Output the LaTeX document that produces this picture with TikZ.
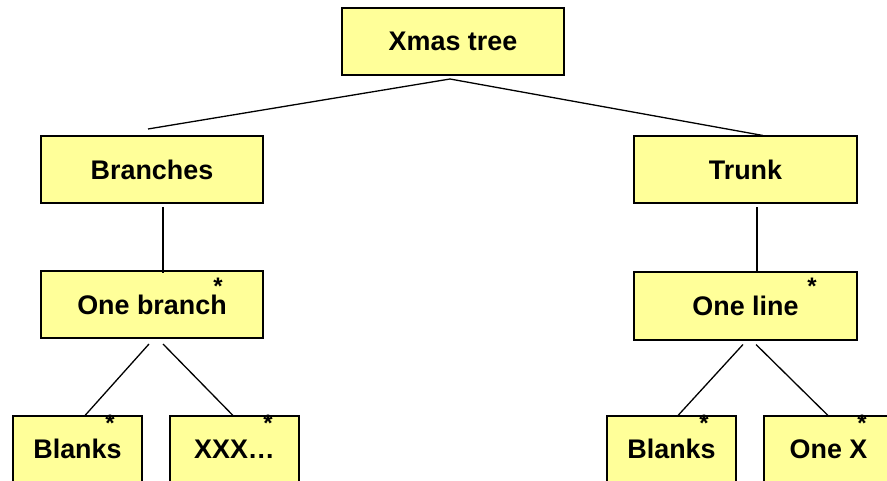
\documentclass[tikz,border=0pt]{standalone}
\usepackage{fontspec}
\setmainfont{Liberation Sans}
\usetikzlibrary{calc}
\definecolor{boxfill}{HTML}{FFFF99}
\tikzset{
  treebox/.style={draw=black, line width=2bp, fill=boxfill, inner sep=0pt,
    minimum width=222bp, minimum height=67bp,
    font=\fontsize{27}{32}\selectfont\bfseries},
  leafbox/.style={treebox, minimum width=129bp},
  star/.style={anchor=base, inner sep=0pt, font=\fontsize{24}{28}\selectfont\bfseries},
  link/.style={draw=black, line width=1.3bp}
}
\begin{document}
\begin{tikzpicture}[x=1bp,y=-1bp]
\useasboundingbox (0,0) rectangle (887,481);
\begin{scope}
\clip (0,0) rectangle (887,481);
\node[treebox] (xmas) at (453,41.5) {Xmas tree};
\node[treebox] (branches) at (152,169.5) {Branches};
\node[treebox, minimum width=223bp] (trunk) at (745.5,170) {Trunk};
\node[treebox] (onebranch) at (152,304.5) {One branch};
\node[treebox, minimum width=223bp] (oneline) at (745.5,306) {One line};
\node[leafbox] (blanksa) at (77.5,449) {Blanks};
\node[leafbox] (xxx) at (234.5,449) {XXX…};
\node[leafbox] (blanksb) at (671.5,449) {Blanks};
\node[leafbox] (onex) at (828.5,449) {One X};

\node[star] (s1) at (218,295) {*};
\node[star] (s2) at (812,295) {*};
\node[star] (s3) at (110,431) {*};
\node[star] (s4) at (268,431) {*};
\node[star] (s5) at (704,431) {*};
\node[star] (s6) at (862,431) {*};

\coordinate (apex) at ($(xmas.south)+(-3,3)$);
\draw[link] (apex) -- ($(branches.north)+(-4,-6)$);
\draw[link] (apex) -- ($(trunk.north)+(17.5,0)$);
\draw[link] ($(branches.south)+(11,3)$) -- ($(onebranch.north)+(11,3)$);
\draw[link] ($(trunk.south)+(11.5,3)$) -- ($(oneline.north)+(11.5,1)$);
\draw[link] ($(onebranch.south)+(-3,5)$) -- ($(blanksa.north)+(7.5,1)$);
\draw[link] ($(onebranch.south)+(11,5)$) -- ($(xxx.north)+(-1.5,1)$);
\draw[link] ($(oneline.south)+(-2.5,4)$) -- ($(blanksb.north)+(6.5,1)$);
\draw[link] ($(oneline.south)+(10.5,4)$) -- ($(onex.north)+(-0.5,1)$);
\end{scope}
\end{tikzpicture}
\end{document}
